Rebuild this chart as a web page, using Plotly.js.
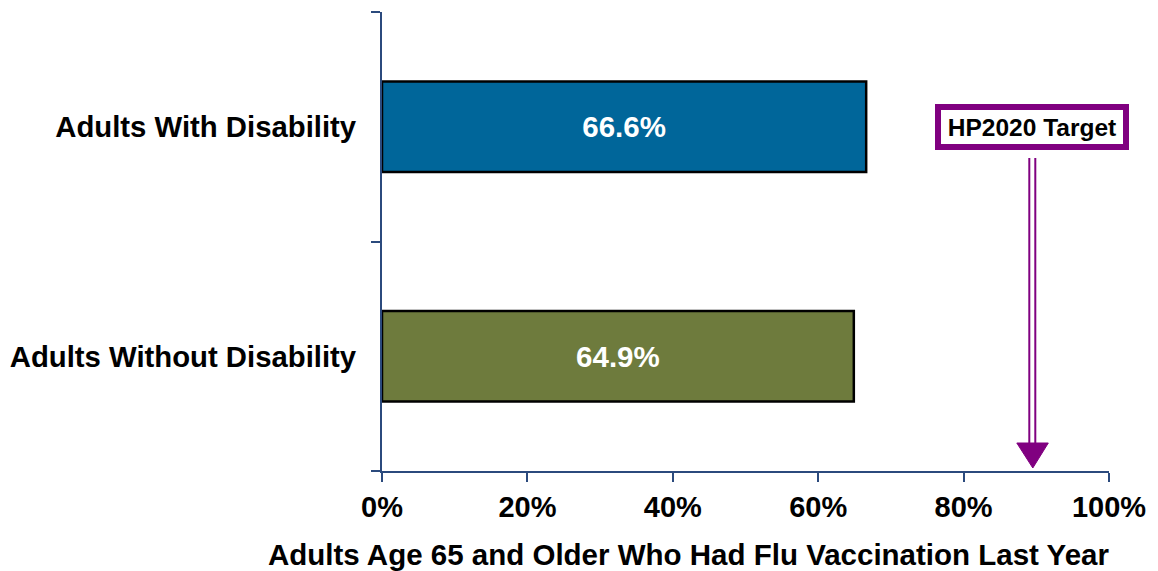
<!DOCTYPE html>
<html>
<head>
<meta charset="utf-8">
<script src="https://cdn.plot.ly/plotly-3.0.1.min.js"></script>
<style>html,body{margin:0;padding:0;background:#fff;}</style>
</head>
<body>
<div id="chart" style="width:1158px;height:571px;"></div>
<script>
// Data
const categories = ["Adults Without Disability", "Adults With Disability"];
const values = [64.9, 66.6];
const valueLabels = ["64.9%", "66.6%"];
const barColors = ["#6E7B3D", "#00669A"];
const xTickVals = [0, 20, 40, 60, 80, 100];
const xTickText = ["0%", "20%", "40%", "60%", "80%", "100%"];
const targetValue = 90;
const targetLabel = "HP2020 Target";
const xTitle = "Adults Age 65 and Older Who Had Flu Vaccination Last Year";

const FONT = "Liberation Sans, Arial, sans-serif";
const AXIS = "#2B4A7D";
const PURPLE = "#800080";

const trace = {
  type: "bar",
  orientation: "h",
  y: categories,
  x: values,
  text: valueLabels,
  textposition: "inside",
  insidetextanchor: "middle",
  textangle: 0,
  constraintext: "none",
  textfont: {family: FONT, size: 29.5, color: "#ffffff", weight: "bold"},
  marker: {color: barColors, line: {color: "#000000", width: 2.5}},
  width: 0.395,
  hoverinfo: "skip"
};

const layout = {
  width: 1158,
  height: 571,
  margin: {l: 382, r: 49, t: 12, b: 100},
  paper_bgcolor: "#ffffff",
  plot_bgcolor: "#ffffff",
  showlegend: false,
  font: {family: FONT, color: "#000000"},
  xaxis: {
    range: [0, 100],
    tickvals: xTickVals,
    ticktext: xTickText,
    ticks: "outside",
    ticklen: 9,
    tickwidth: 2,
    tickcolor: AXIS,
    showline: true,
    linecolor: AXIS,
    linewidth: 2,
    showgrid: false,
    zeroline: false,
    tickfont: {family: FONT, size: 29, color: "#000000", weight: "bold"},
    fixedrange: true
  },
  yaxis: {
    type: "category",
    range: [-0.5, 1.5],
    tickson: "boundaries",
    ticks: "outside",
    ticklen: 9,
    tickwidth: 2,
    tickcolor: AXIS,
    showline: true,
    linecolor: AXIS,
    linewidth: 2,
    showgrid: false,
    zeroline: false,
    ticklabelstandoff: 18,
    tickfont: {family: FONT, size: 29.3, color: "#000000", weight: "bold"},
    fixedrange: true
  },
  annotations: [
    {
      text: xTitle,
      xref: "paper", yref: "paper",
      x: 0.4215, y: -0.181,
      xanchor: "center", yanchor: "middle",
      showarrow: false,
      font: {family: FONT, size: 29.5, color: "#000000", weight: "bold"}
    },
    {
      text: targetLabel,
      xref: "x", yref: "paper",
      x: targetValue, y: 0.7505,
      xshift: -4,
      xanchor: "center", yanchor: "middle",
      showarrow: false,
      width: 182, height: 34,
      borderpad: 0,
      borderwidth: 6,
      bordercolor: PURPLE,
      bgcolor: "#ffffff",
      font: {family: FONT, size: 24.5, color: "#000000", weight: "bold"}
    }
  ],
  shapes: [
    {
      type: "line", xref: "x", yref: "paper",
      xsizemode: "pixel", xanchor: targetValue,
      x0: -4, x1: -4,
      y0: 0.061, y1: 0.682,
      line: {color: PURPLE, width: 8}
    },
    {
      type: "line", xref: "x", yref: "paper",
      xsizemode: "pixel", xanchor: targetValue,
      x0: -4, x1: -4,
      y0: 0.061, y1: 0.682,
      line: {color: "#ffffff", width: 4}
    },
    {
      type: "path", xref: "x", yref: "paper",
      xsizemode: "pixel", xanchor: targetValue,
      ysizemode: "pixel", yanchor: 0,
      path: "M -19.5 28 L 12 28 L -3.5 3 Z",
      fillcolor: PURPLE,
      line: {color: PURPLE, width: 1}
    }
  ]
};

Plotly.newPlot("chart", [trace], layout, {displayModeBar: false, staticPlot: true});
</script>
</body>
</html>
